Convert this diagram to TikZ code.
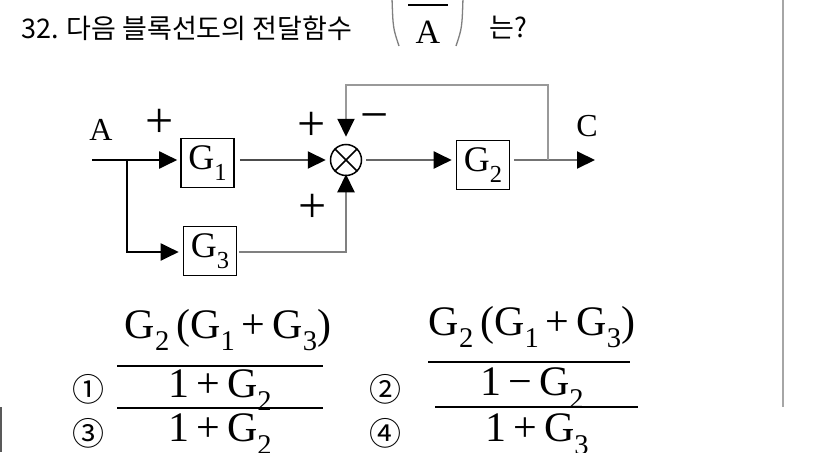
\documentclass[tikz,border=0pt]{standalone}
\usepackage{fontspec}
\setmainfont{Liberation Serif}
\newfontfamily\krfont{Noto Sans CJK KR}
\usetikzlibrary{arrows.meta}
\newcommand\lsub[1]{\raisebox{-0.3em}{\scalebox{0.68}{#1}}}
\begin{document}
\begin{tikzpicture}[x=1pt,y=-1pt,
  blk/.style={draw, line width=1.6pt, minimum width=53pt, minimum height=49pt, inner sep=0pt, font=\fontsize{36}{36}\selectfont},
  wire/.style={line width=2pt},
  arr/.style={-{Triangle[length=18pt,width=17pt,color=black]}},
  lbl/.style={font=\fontsize{32}{32}\selectfont, inner sep=0pt},
  sgn/.style={font=\fontsize{50}{50}\selectfont, inner sep=0pt},
  kr/.style={font=\krfont\fontsize{27}{27}\selectfont, inner sep=0pt},
  opt/.style={font=\krfont\fontsize{32}{32}\selectfont, inner sep=0pt},
  frac/.style={font=\fontsize{42}{42}\selectfont, inner sep=0pt},
  bar/.style={line width=1.6pt},
  paren/.style={line width=1.3pt, gray}]
\useasboundingbox (0,0) rectangle (826,452);
\fill[white] (0,0) rectangle (826,452);
% page borders
\draw[line width=1.5pt, black!35] (783,0) -- (783,407);
\draw[line width=2pt, black!65] (1,407) -- (1,452);
% title
\node[kr, anchor=west] (title) at (21,28) {32. 다음 블록선도의 전달함수};
\node[lbl, font=\fontsize{34}{34}\selectfont] (fa) at (428,32) {A};
\draw[line width=1.5pt] (408,5) -- (448,5);
\draw[paren] (392,-2) .. controls (393,28) .. (399,46);
\draw[paren] (463,-2) .. controls (462,28) .. (456,46);
\node[kr, anchor=west] (q) at (489,28) {는?};
% block diagram
\node[lbl] (A) at (101,130) {A};
\node[lbl] (C) at (587,126) {C};
\node[sgn] (p1) at (160,123) {+};
\node[sgn] (p2) at (312,126) {+};
\node[sgn] (m1) at (375,123) {\textminus};
\node[sgn] (p3) at (313,208) {+};
\node[blk] (G1) at (207.5,163) {G\lsub{1}};
\node[blk] (G2) at (483,165) {G\lsub{2}};
\node[blk] (G3) at (210,251) {G\lsub{3}};
\node[circle, draw, line width=1.5pt, minimum size=31pt, inner sep=0pt] (sum) at (346,160) {};
\draw[line width=1.5pt] (sum.north west) -- (sum.south east) (sum.north east) -- (sum.south west);
\coordinate (in) at (92,160);
\coordinate (br) at (127,160);
\coordinate (fb) at (548,160);
\coordinate (out) at (595,160);
\coordinate (fbtop) at (548,85);
\draw[wire] (in) -- (br);
\draw[wire, arr, shorten >=3pt] (br) -- (br -| G1.west);
\draw[wire, arr, shorten >=4pt] (br) |- (G3.west |- 0,252);
\draw[wire, black!70, arr, shorten <=5pt, shorten >=4pt] (G1.east |- in) -- (sum.west);
\draw[wire, black!50, arr, shorten <=2pt, shorten >=-2pt] (G3.east |- 0,252) -| (sum.south);
\draw[wire, black!60, arr, shorten <=4pt, shorten >=4pt] (sum.east) -- (sum.east -| G2.west);
\draw[wire, black!55, shorten <=4pt] (G2.east |- fb) -- (fb);
\draw[wire, black!55, arr] (fb) -- (out);
\draw[wire, black!40, arr, shorten >=7pt] (fb) -- (fbtop) -- (fbtop -| sum.north) -- (sum.north);
% answers
\node[opt] (o1) at (88,389) {①};
\node[opt] (o2) at (385,389) {②};
\node[opt] (o3) at (88,433) {③};
\node[opt] (o4) at (385,433) {④};
\node[frac] (n1) at (228,330) {G\lsub{2}\,(G\lsub{1}\,+\,G\lsub{3})};
\draw[bar] (117,366) -- (323,366);
\node[frac] (d1) at (220,390) {1\,+\,G\lsub{2}};
\draw[bar] (117,408) -- (323,408);
\node[frac] (d3) at (220,434) {1\,+\,G\lsub{2}};
\node[frac] (n2) at (532,327) {G\lsub{2}\,(G\lsub{1}\,+\,G\lsub{3})};
\draw[bar] (428,362) -- (630,362);
\node[frac] (d2) at (532,388) {1\,\textminus\,G\lsub{2}};
\draw[bar] (435,407) -- (638,407);
\node[frac] (d4) at (537,434) {1\,+\,G\lsub{3}};
\end{tikzpicture}
\end{document}
